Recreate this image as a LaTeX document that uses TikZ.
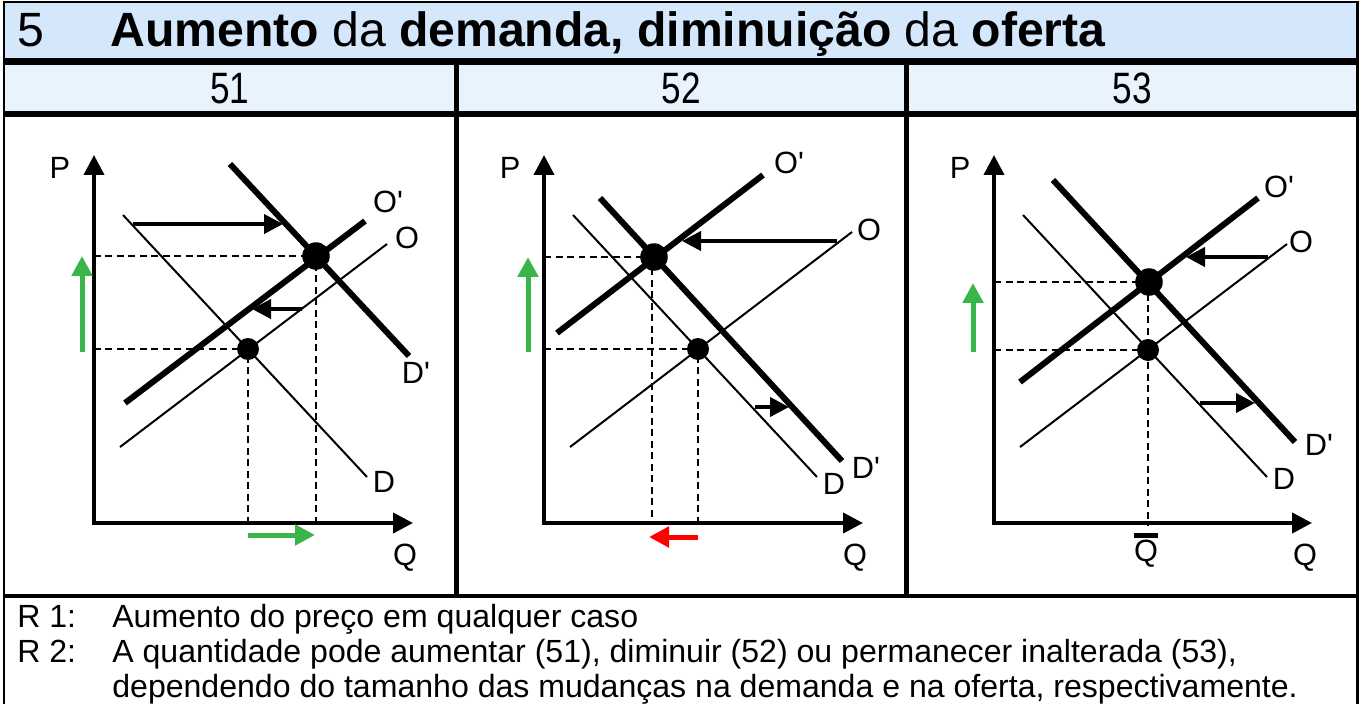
\documentclass[tikz,border=0pt]{standalone}
\usepackage{fontspec}
\setmainfont{Liberation Sans}[Ligatures=TeXOff]
\usetikzlibrary{arrows.meta}
\definecolor{titlebg}{RGB}{212,231,251}
\definecolor{headbg}{RGB}{233,243,253}
\definecolor{upgreen}{RGB}{57,181,74}
\definecolor{downred}{RGB}{255,0,0}
\tikzset{
  frameline/.style={line width=0.06cm},
  axisline/.style={line width=0.08cm,{Triangle[length=0.4cm,width=0.4cm]}-{Triangle[length=0.4cm,width=0.4cm]}},
  thincurve/.style={line width=0.04cm},
  thickcurve/.style={line width=0.12cm},
  guide/.style={line width=0.035cm,dash pattern=on 0.14cm off 0.09cm},
  shiftarrow/.style={line width=0.08cm,-{Triangle[length=0.38cm,width=0.38cm]}},
  pricearrow/.style={line width=0.1cm,-{Triangle[length=0.4cm,width=0.4cm]},upgreen},
  qtyredarrow/.style={line width=0.1cm,-{Triangle[length=0.4cm,width=0.4cm]},downred},
  smalldot/.style={circle,fill=black,inner sep=0pt,minimum size=0.44cm},
  bigdot/.style={circle,fill=black,inner sep=0pt,minimum size=0.55cm},
  curvelabel/.style={inner sep=0pt,font=\fontsize{17.5pt}{20pt}\selectfont},
  titletext/.style={inner sep=0pt,anchor=base west,font=\fontsize{27.4pt}{31pt}\selectfont},
  headtext/.style={inner sep=0pt,anchor=base,font=\fontsize{20pt}{23pt}\selectfont},
  bodytext/.style={inner sep=0pt,anchor=base west,font=\fontsize{18.25pt}{21pt}\selectfont},
}
\newcommand{\tallnum}[1]{\scalebox{1}[1.25]{#1}}
\begin{document}
\begin{tikzpicture}[x=0.02cm,y=-0.02cm]
\useasboundingbox (0,0) rectangle (1362,703);
% backgrounds
\fill[titlebg] (4,2) rectangle (1357,61);
\fill[headbg] (4,61) rectangle (1357,114);
% frame
\draw[frameline] (4,708) -- (4,2) -- (1357,2) -- (1357,708);
\draw[line width=0.14cm] (4,61) -- (1357,61);
\draw[line width=0.12cm] (4,114) -- (1357,114);
\draw[line width=0.09cm] (4,596) -- (1357,596);
\draw[line width=0.1cm] (456,61) -- (456,596);
\draw[line width=0.1cm] (906,61) -- (906,596);
% title
\node[titletext] (tnum) at (17,46) {5};
\node[titletext] (ttext) at (110,46) {\textbf{Aumento} da \textbf{demanda, diminuição} da \textbf{oferta}};
\node[headtext] (h51) at (230,103) {\tallnum{51}};
\node[headtext] (h52) at (681,103) {\tallnum{52}};
\node[headtext] (h53) at (1132,103) {\tallnum{53}};
% bottom text
\node[bodytext] (r1) at (17,627) {R 1:};
\node[bodytext] (r1t) at (112,627) {Aumento do preço em qualquer caso};
\node[bodytext] (r2) at (17,662) {R 2:};
\node[bodytext] (r2t) at (112,662) {A quantidade pode aumentar (51), diminuir (52) ou permanecer inalterada (53),};
\node[bodytext] (r3t) at (112,697) {dependendo do tamanho das mudanças na demanda e na oferta, respectivamente.};

% ---------- Panel 51 ----------
\coordinate (a1o) at (94,523);
\coordinate (a1p) at (94,155);
\coordinate (a1q) at (413,523);
\draw[axisline] (a1p) -- (a1o) -- (a1q);
\node[curvelabel] (p1) at (60,168) {P};
\node[curvelabel] (q1) at (405,558) {Q};
\coordinate (d1s) at (123,215); \coordinate (d1e) at (367,477);
\coordinate (o1s) at (120,447); \coordinate (o1e) at (387,244);
\coordinate (op1s) at (125,403); \coordinate (op1e) at (365,221);
\coordinate (dp1s) at (230,164); \coordinate (dp1e) at (409,356);
\draw[thincurve] (d1s) -- (d1e);
\draw[thincurve] (o1s) -- (o1e);
\draw[thickcurve] (op1s) -- (op1e);
\draw[thickcurve] (dp1s) -- (dp1e);
\node[smalldot] (e1) at (248,349) {};
\node[bigdot] (f1) at (316,256) {};
\coordinate (e1y) at (94,349); \coordinate (e1x) at (248,523);
\coordinate (f1y) at (94,256); \coordinate (f1x) at (316,523);
\draw[guide] (e1y) -- (e1.center) -- (e1x);
\draw[guide] (f1y) -- (f1.center) -- (f1x);
\coordinate (s1a) at (133,224); \coordinate (s1b) at (283,224);
\draw[shiftarrow] (s1a) -- (s1b);
\coordinate (s1c) at (302,309); \coordinate (s1d) at (252,309);
\draw[shiftarrow] (s1c) -- (s1d);
\coordinate (g1a) at (82,352); \coordinate (g1b) at (82,256);
\draw[pricearrow] (g1a) -- (g1b);
\coordinate (g1c) at (248,535); \coordinate (g1d) at (315,535);
\draw[pricearrow] (g1c) -- (g1d);
\node[curvelabel] (lop1) at (388,202) {O'};
\node[curvelabel] (lo1) at (407,238) {O};
\node[curvelabel] (ldp1) at (416,373) {D'};
\node[curvelabel] (ld1) at (384,482) {D};

% ---------- Panel 52 ----------
\coordinate (a2o) at (544,523);
\coordinate (a2p) at (544,155);
\coordinate (a2q) at (863,523);
\draw[axisline] (a2p) -- (a2o) -- (a2q);
\node[curvelabel] (p2) at (510,168) {P};
\node[curvelabel] (q2) at (855,558) {Q};
\coordinate (d2s) at (573,215); \coordinate (d2e) at (817,477);
\coordinate (o2s) at (570,447); \coordinate (o2e) at (852,232);
\coordinate (op2s) at (557,333); \coordinate (op2e) at (763,175);
\coordinate (dp2s) at (600,198); \coordinate (dp2e) at (842,461);
\draw[thincurve] (d2s) -- (d2e);
\draw[thincurve] (o2s) -- (o2e);
\draw[thickcurve] (op2s) -- (op2e);
\draw[thickcurve] (dp2s) -- (dp2e);
\node[smalldot] (e2) at (698,349) {};
\node[bigdot] (f2) at (654,257) {};
\coordinate (e2y) at (544,349); \coordinate (e2x) at (698,523);
\coordinate (f2y) at (544,257); \coordinate (f2x) at (652,523);
\draw[guide] (e2y) -- (e2.center) -- (e2x);
\draw[guide] (f2y) -- (f2.center);
\draw[guide] (652,257) -- (f2x);
\coordinate (s2a) at (837,241); \coordinate (s2b) at (682,241);
\draw[shiftarrow] (s2a) -- (s2b);
\coordinate (s2c) at (755,407); \coordinate (s2d) at (789,407);
\draw[shiftarrow] (s2c) -- (s2d);
\coordinate (g2a) at (528,352); \coordinate (g2b) at (528,257);
\draw[pricearrow] (g2a) -- (g2b);
\coordinate (r2a) at (698,537); \coordinate (r2b) at (649,537);
\draw[qtyredarrow] (r2a) -- (r2b);
\node[curvelabel] (lop2) at (789,163) {O'};
\node[curvelabel] (lo2) at (869,230) {O};
\node[curvelabel] (ldp2) at (866,468) {D'};
\node[curvelabel] (ld2) at (834,484) {D};

% ---------- Panel 53 ----------
\coordinate (a3o) at (994,523);
\coordinate (a3p) at (994,155);
\coordinate (a3q) at (1312,523);
\draw[axisline] (a3p) -- (a3o) -- (a3q);
\node[curvelabel] (p3) at (960,168) {P};
\node[curvelabel] (q3) at (1305,558) {Q};
\coordinate (d3s) at (1023,215); \coordinate (d3e) at (1267,477);
\coordinate (o3s) at (1020,447); \coordinate (o3e) at (1287,244);
\coordinate (op3s) at (1020,382); \coordinate (op3e) at (1258,198);
\coordinate (dp3s) at (1053,180); \coordinate (dp3e) at (1295,442);
\draw[thincurve] (d3s) -- (d3e);
\draw[thincurve] (o3s) -- (o3e);
\draw[thickcurve] (op3s) -- (op3e);
\draw[thickcurve] (dp3s) -- (dp3e);
\node[smalldot] (e3) at (1148,350) {};
\node[bigdot] (f3) at (1149,282) {};
\coordinate (e3y) at (994,350);
\coordinate (f3y) at (994,282); \coordinate (f3x) at (1148,526);
\draw[guide] (e3y) -- (e3.center);
\draw[guide] (f3y) -- (f3.center);
\draw[guide] (1148,282) -- (f3x);
\coordinate (s3a) at (1268,257); \coordinate (s3b) at (1186,257);
\draw[shiftarrow] (s3a) -- (s3b);
\coordinate (s3c) at (1200,403); \coordinate (s3d) at (1255,403);
\draw[shiftarrow] (s3c) -- (s3d);
\coordinate (g3a) at (973,352); \coordinate (g3b) at (973,283);
\draw[pricearrow] (g3a) -- (g3b);
\node[curvelabel] (qbar) at (1146,554) {Q};
\draw[line width=0.1cm] ([xshift=-12*0.02cm,yshift=0.1cm]qbar.north) -- ([xshift=12*0.02cm,yshift=0.1cm]qbar.north);
\node[curvelabel] (lop3) at (1279,187) {O'};
\node[curvelabel] (lo3) at (1301,242) {O};
\node[curvelabel] (ldp3) at (1319,445) {D'};
\node[curvelabel] (ld3) at (1284,479) {D};
\end{tikzpicture}
\end{document}
